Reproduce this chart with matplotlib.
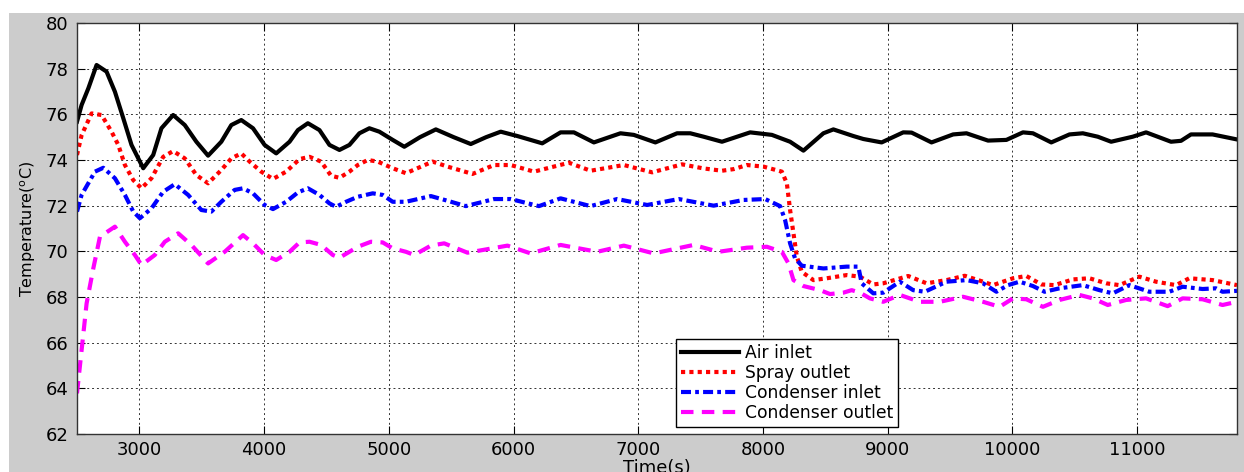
import matplotlib
matplotlib.use("Agg")
import matplotlib.pyplot as plt
from matplotlib.patches import Rectangle

# ---- data ----
air_t = [2500, 2537, 2591, 2657, 2737, 2804, 2871, 2937, 3031, 3111, 3177, 3271, 3364, 3457,
         3551, 3657, 3737, 3817, 3911, 4004, 4097, 4204, 4271, 4351, 4444, 4524, 4604, 4684,
         4764, 4844, 4924, 5031, 5124, 5250, 5377, 5520, 5657, 5780, 5897, 6030, 6230, 6377,
         6484, 6644, 6857, 6964, 7137, 7311, 7417, 7524, 7671, 7897, 8071, 8217, 8324, 8484,
         8564, 8724, 8804, 8951, 9124, 9191, 9351, 9524, 9631, 9804, 9951, 10084, 10164, 10311,
         10457, 10564, 10684, 10791, 10964, 11071, 11164, 11271, 11351, 11431, 11604, 11800]
air_v = [75.68, 76.41, 77.14, 78.16, 77.87, 76.99, 75.83, 74.66, 73.64, 74.22, 75.39, 75.97, 75.53, 74.8,
         74.19, 74.8, 75.53, 75.75, 75.39, 74.66, 74.29, 74.8, 75.31, 75.61, 75.31, 74.66, 74.44, 74.66,
         75.17, 75.39, 75.24, 74.88, 74.58, 75.0, 75.34, 75.0, 74.7, 75.0, 75.24, 75.05, 74.73, 75.21,
         75.21, 74.77, 75.17, 75.1, 74.77, 75.17, 75.17, 75.02, 74.8, 75.21, 75.1, 74.8, 74.41, 75.17,
         75.34, 75.05, 74.92, 74.77, 75.21, 75.2, 74.77, 75.12, 75.17, 74.85, 74.88, 75.21, 75.17, 74.77,
         75.12, 75.17, 75.02, 74.8, 75.02, 75.21, 75.02, 74.8, 74.84, 75.12, 75.12, 74.9]

spray_t = [2500, 2537, 2617, 2697, 2777, 2831, 2884, 2951, 3017, 3097, 3191, 3271, 3364, 3457,
           3551, 3657, 3737, 3817, 3884, 3977, 4071, 4177, 4284, 4364, 4457, 4537, 4604, 4684,
           4751, 4831, 4911, 5031, 5137, 5351, 5471, 5671, 5844, 5977, 6164, 6444, 6617, 6884,
           7111, 7351, 7524, 7671, 7764, 7871, 8004, 8151, 8191, 8217, 8244, 8271, 8311, 8404,
           8511, 8671, 8777, 8884, 8964, 9164, 9311, 9471, 9617, 9764, 9844, 10004, 10111, 10231,
           10337, 10484, 10617, 10751, 10857, 11017, 11151, 11311, 11417, 11604, 11800]
spray_v = [74.22, 75.09, 76.04, 75.97, 75.24, 74.66, 73.78, 73.12, 72.76, 73.2, 74.14, 74.39, 74.07, 73.34,
           72.98, 73.56, 74.07, 74.29, 73.93, 73.49, 73.17, 73.49, 74.04, 74.14, 73.93, 73.31, 73.22, 73.49,
           73.78, 74.0, 73.93, 73.64, 73.42, 73.93, 73.71, 73.39, 73.78, 73.78, 73.49, 73.88, 73.53, 73.78,
           73.46, 73.81, 73.63, 73.53, 73.6, 73.78, 73.71, 73.49, 72.98, 71.81, 70.79, 69.77, 69.1, 68.74,
           68.82, 68.96, 68.89, 68.55, 68.6, 68.92, 68.6, 68.74, 68.93, 68.67, 68.52, 68.82, 68.92, 68.55,
           68.52, 68.77, 68.82, 68.6, 68.52, 68.89, 68.67, 68.52, 68.82, 68.74, 68.52]

cin_t = [2500, 2537, 2644, 2711, 2804, 2884, 2951, 3004, 3097, 3191, 3284, 3391, 3497, 3577,
         3657, 3764, 3831, 3911, 4004, 4071, 4177, 4271, 4351, 4444, 4524, 4577, 4657, 4751,
         4871, 4951, 5031, 5137, 5337, 5480, 5617, 5844, 5977, 6204, 6377, 6617, 6830, 7071,
         7324, 7604, 7844, 8017, 8137, 8177, 8217, 8257, 8311, 8484, 8671, 8764, 8791, 8884,
         8964, 9097, 9204, 9297, 9471, 9631, 9764, 9871, 9964, 10057, 10164, 10257, 10377, 10564,
         10697, 10804, 10937, 11097, 11257, 11364, 11524, 11631, 11684, 11800]
cin_v = [71.74, 72.47, 73.49, 73.66, 73.2, 72.47, 71.74, 71.45, 71.88, 72.61, 72.94, 72.47, 71.81, 71.74,
         72.17, 72.69, 72.76, 72.54, 72.03, 71.85, 72.17, 72.58, 72.76, 72.47, 72.1, 71.95, 72.17, 72.39,
         72.54, 72.47, 72.17, 72.17, 72.42, 72.2, 71.98, 72.29, 72.29, 71.98, 72.32, 71.98, 72.29, 72.03,
         72.29, 72.0, 72.25, 72.29, 71.98, 71.37, 70.35, 69.69, 69.37, 69.25, 69.33, 69.33, 68.6, 68.16,
         68.19, 68.67, 68.3, 68.23, 68.67, 68.74, 68.6, 68.23, 68.52, 68.67, 68.48, 68.23, 68.38, 68.52,
         68.3, 68.16, 68.52, 68.23, 68.23, 68.45, 68.35, 68.38, 68.23, 68.27]

cout_t = [2500, 2537, 2577, 2631, 2684, 2804, 2884, 2964, 3017, 3124, 3204, 3311, 3417, 3551,
          3684, 3831, 3911, 4004, 4097, 4204, 4284, 4364, 4457, 4551, 4604, 4684, 4751, 4857,
          4951, 5031, 5137, 5204, 5337, 5444, 5631, 5951, 6137, 6377, 6671, 6884, 7124, 7444,
          7644, 7871, 8031, 8151, 8204, 8244, 8324, 8457, 8537, 8644, 8711, 8777, 8857, 8964,
          9097, 9257, 9417, 9604, 9764, 9897, 10004, 10111, 10244, 10377, 10537, 10644, 10764, 10911,
          11071, 11244, 11364, 11524, 11684, 11800]
cout_v = [63.78, 65.68, 67.72, 69.26, 70.64, 71.08, 70.42, 69.84, 69.4, 69.84, 70.42, 70.79, 70.28, 69.47,
          69.98, 70.71, 70.35, 69.84, 69.62, 69.98, 70.39, 70.42, 70.28, 69.84, 69.72, 69.98, 70.2, 70.42,
          70.39, 70.13, 69.98, 69.84, 70.25, 70.35, 69.94, 70.25, 69.91, 70.28, 69.98, 70.25, 69.91, 70.28,
          69.98, 70.16, 70.2, 69.98, 69.47, 68.74, 68.48, 68.3, 68.13, 68.19, 68.3, 68.19, 67.94, 67.79,
          68.09, 67.79, 67.79, 68.01, 67.79, 67.57, 67.94, 67.9, 67.57, 67.87, 68.09, 67.94, 67.65, 67.87,
          67.94, 67.6, 67.94, 67.9, 67.65, 67.79]

labels = ["Air inlet", "Spray outlet", "Condenser inlet", "Condenser outlet"]
x_ticks = [3000, 4000, 5000, 6000, 7000, 8000, 9000, 10000, 11000]
y_ticks = [62, 64, 66, 68, 70, 72, 74, 76, 78, 80]

# ---- figure ----
W, H = 1244, 472
plt.rcParams['font.family'] = ['DejaVu Sans']
fig = plt.figure(figsize=(W / 100, H / 100), dpi=100, facecolor='white')
fig.patches.append(Rectangle((9 / W, 0), 1 - 9 / W, 1 - 13 / H, transform=fig.transFigure,
                             facecolor='#cccccc', edgecolor='none', zorder=-10))

ax = fig.add_axes([77 / W, (H - 434) / H, 1160 / W, 411 / H])
ax.set_facecolor('white')

lw = 3.0
kw = dict(lw=lw, solid_joinstyle='round', dash_joinstyle='round')
ax.plot(air_t, air_v, color='black', ls='-', label=labels[0], **kw)
ax.plot(spray_t, spray_v, color='#ff0000', ls=(0, (1, 1)), label=labels[1], **kw)
ax.plot(cin_t, cin_v, color='#0000ff', ls=(0, (2.4, 1, 0.9, 1)), label=labels[2], **kw)
ax.plot(cout_t, cout_v, color='#ff00ff', ls=(0, (3, 2)), label=labels[3], **kw)

ax.set_xlim(2500, 11800)
ax.set_ylim(62, 80)
ax.set_xticks(x_ticks)
ax.set_yticks(y_ticks)
ax.tick_params(axis='both', direction='in', top=True, right=True, length=6, width=0.8,
               labelsize=13, colors='black')
ax.tick_params(axis='x', pad=5)
ax.tick_params(axis='y', pad=6)
ax.grid(True, color='black', lw=0.7, ls=(0, (2, 3)), alpha=0.8)
for s in ax.spines.values():
    s.set_linewidth(1.0)
    s.set_color('#333333')

ax.set_ylabel("Temperature($^{\\rm o}$C)", fontsize=11.5, va='center')
ax.yaxis.set_label_coords(-0.042, 0.5)
ax.set_xlabel("Time(s)", fontsize=13, va='center')
ax.xaxis.set_label_coords(0.5, -0.083)

leg = ax.legend(loc='lower left', bbox_to_anchor=(0.516, 0.017), fontsize=12.3,
                frameon=True, fancybox=False, shadow=False, framealpha=1,
                edgecolor='black', handlelength=3.4, handletextpad=0.35,
                labelspacing=0.12, borderpad=0.3, borderaxespad=0)
leg.get_frame().set_linewidth(1.0)

fig.savefig("out.png", dpi=100, facecolor=fig.get_facecolor())
